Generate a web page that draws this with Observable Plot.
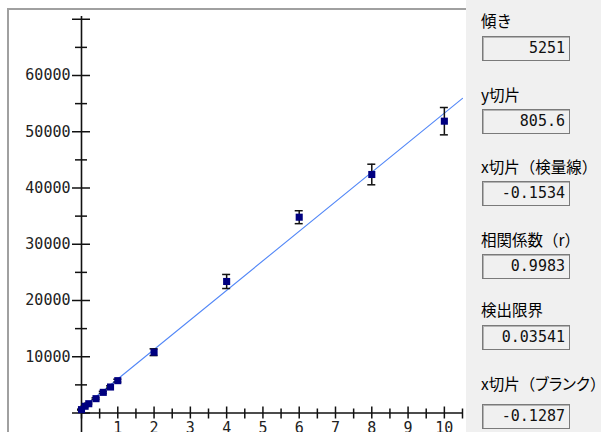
<!DOCTYPE html>
<html>
<head>
<meta charset="utf-8">
<script src="https://cdn.jsdelivr.net/npm/d3@7"></script>
<script src="https://cdn.jsdelivr.net/npm/@observablehq/plot@0.6"></script>
<style>
  body { margin: 0; background: #fff; }
  #wrap { position: relative; width: 601px; height: 432px; overflow: hidden; }
  #frame { position: absolute; left: 7px; top: 8px; width: 459px; height: 430px;
           border-top: 2px solid #a0a0a0; border-left: 2px solid #a0a0a0; background: #fff; }
  #chart { position: absolute; left: 0; top: 0; }
  #panel { position: absolute; left: 466px; top: 0; width: 135px; height: 432px; background: #f0f0f0; }
  .lab { position: absolute; left: 15px; font-family: "Noto Sans CJK JP"; font-size: 15.5px;
         line-height: 16px; color: #000; white-space: nowrap; }
  .lab .kana { font-feature-settings: "palt"; }
  .box { position: absolute; left: 16px; width: 88px; height: 25px; box-sizing: border-box;
         border: 1px solid #7a7a7a; box-shadow: inset 1px 1px 0 #b4b4b4; background: #f0f0f0;
         font-family: "DejaVu Sans Mono"; font-size: 15px; line-height: 23px;
         text-align: right; padding-right: 4px; color: #111; }
</style>
</head>
<body>
<div id="wrap">
  <div id="frame"></div>
  <div id="chart"></div>
  <div id="panel"></div>
</div>
<script>
// Calibration standards: concentration, mean signal, and error half-width
const conc     = [0, 0.1, 0.2, 0.4, 0.6, 0.8, 1, 2, 4, 6, 8, 10];
const signal   = [600, 1200, 1650, 2550, 3670, 4620, 5750, 10810, 23380, 34810, 42400, 51880];
const errorBar = [80, 100, 120, 150, 180, 200, 250, 600, 1250, 1150, 1830, 2430];

// Fit results
const slope = 5251;
const intercept = 805.6;
const statLabels = ["傾き", "y切片", "x切片（検量線）", "相関係数（r）", "検出限界", "x切片（ブランク）"];
const statValues = [String(slope), String(intercept), "-0.1534", "0.9983", "0.03541", "-0.1287"];

// Axis ticks and labels
const xMajor = [0, 1, 2, 3, 4, 5, 6, 7, 8, 9, 10];
const xMinor = [0.5, 1.5, 2.5, 3.5, 4.5, 5.5, 6.5, 7.5, 8.5, 9.5, 10.5];
const xLabels = [1, 2, 3, 4, 5, 6, 7, 8, 9, 10];
const yMajor = [0, 10000, 20000, 30000, 40000, 50000, 60000, 70000];
const yMinor = [5000, 15000, 25000, 35000, 45000, 55000, 65000];
const yLabels = [10000, 20000, 30000, 40000, 50000, 60000];
const xMax = 10.5, yTop = 70500, yBottom = -5000;

const points = conc.map((c, i) => ({x: c, y: signal[i], lo: signal[i] - errorBar[i], hi: signal[i] + errorBar[i]}));
const fit = [0, xMax].map(c => ({x: c, y: slope * c + intercept}));

const ink = "#111";
const numFont = "DejaVu Sans Mono";

const chart = Plot.plot({
  width: 466,
  height: 432,
  marginLeft: 81,
  marginRight: 4,
  marginTop: 18.75,
  marginBottom: 19.5,
  style: {background: "transparent", overflow: "visible"},
  x: {domain: [0, xMax], axis: null},
  y: {domain: [0, 70000], axis: null},
  marks: [
    // axes crossing at the origin
    Plot.ruleX([0], {y1: yTop, y2: yBottom, stroke: ink, strokeWidth: 1.6}),
    Plot.ruleY([0], {x1: 0, x2: xMax, stroke: ink, strokeWidth: 1.6}),
    Plot.ruleY(yMajor, {y: d => d, x1: 0, x2: 0, insetLeft: -9, insetRight: -9, stroke: ink, strokeWidth: 1.5}),
    Plot.ruleY(yMinor, {y: d => d, x1: 0, x2: 0, insetLeft: -6, insetRight: -6, stroke: ink, strokeWidth: 1.5}),
    Plot.ruleX(xMajor, {x: d => d, y1: 0, y2: 0, insetTop: -6, insetBottom: -6, stroke: ink, strokeWidth: 1.5}),
    Plot.ruleX(xMinor, {x: d => d, y1: 0, y2: 0, insetTop: -4, insetBottom: -6, stroke: ink, strokeWidth: 1.5}),
    Plot.text(yLabels, {x: 0, y: d => d, text: d => String(d), dx: -11, textAnchor: "end",
      fontSize: 15, fontFamily: numFont, fill: "#222"}),
    Plot.text(xLabels, {x: d => d, y: 0, text: d => String(d), dy: 9, lineAnchor: "top",
      fontSize: 15, fontFamily: numFont, fill: "#222"}),
    // regression line
    Plot.line(fit, {x: "x", y: "y", stroke: "#5287f7", strokeWidth: 1.1}),
    // error bars with caps
    Plot.ruleX(points, {x: "x", y1: "lo", y2: "hi", stroke: ink, strokeWidth: 1.5}),
    Plot.ruleY(points, {y: "hi", x1: "x", x2: "x", insetLeft: -4, insetRight: -4, stroke: ink, strokeWidth: 1.5}),
    Plot.ruleY(points, {y: "lo", x1: "x", x2: "x", insetLeft: -4, insetRight: -4, stroke: ink, strokeWidth: 1.5}),
    // standards
    Plot.dot(points, {x: "x", y: "y", symbol: "square", r: 4, fill: "#000080", stroke: "none"})
  ]
});
document.getElementById("chart").append(chart);

// Statistics panel
const labelTops = [12, 86, 158, 231, 301, 375];
const boxTops = [36, 109, 181, 254, 325, 404];
const panel = document.getElementById("panel");
statLabels.forEach((t, i) => {
  const l = document.createElement("div");
  l.className = "lab";
  l.style.top = labelTops[i] + "px";
  // katakana runs use proportional widths
  t.split(/([\u30A0-\u30FF]+)/).forEach(part => {
    if (!part) return;
    if (/^[\u30A0-\u30FF]+$/.test(part)) {
      const s = document.createElement("span");
      s.className = "kana";
      s.textContent = part;
      l.append(s);
    } else {
      l.append(document.createTextNode(part));
    }
  });
  panel.append(l);
  const b = document.createElement("div");
  b.className = "box";
  b.style.top = boxTops[i] + "px";
  b.textContent = statValues[i];
  panel.append(b);
});
</script>
</body>
</html>
